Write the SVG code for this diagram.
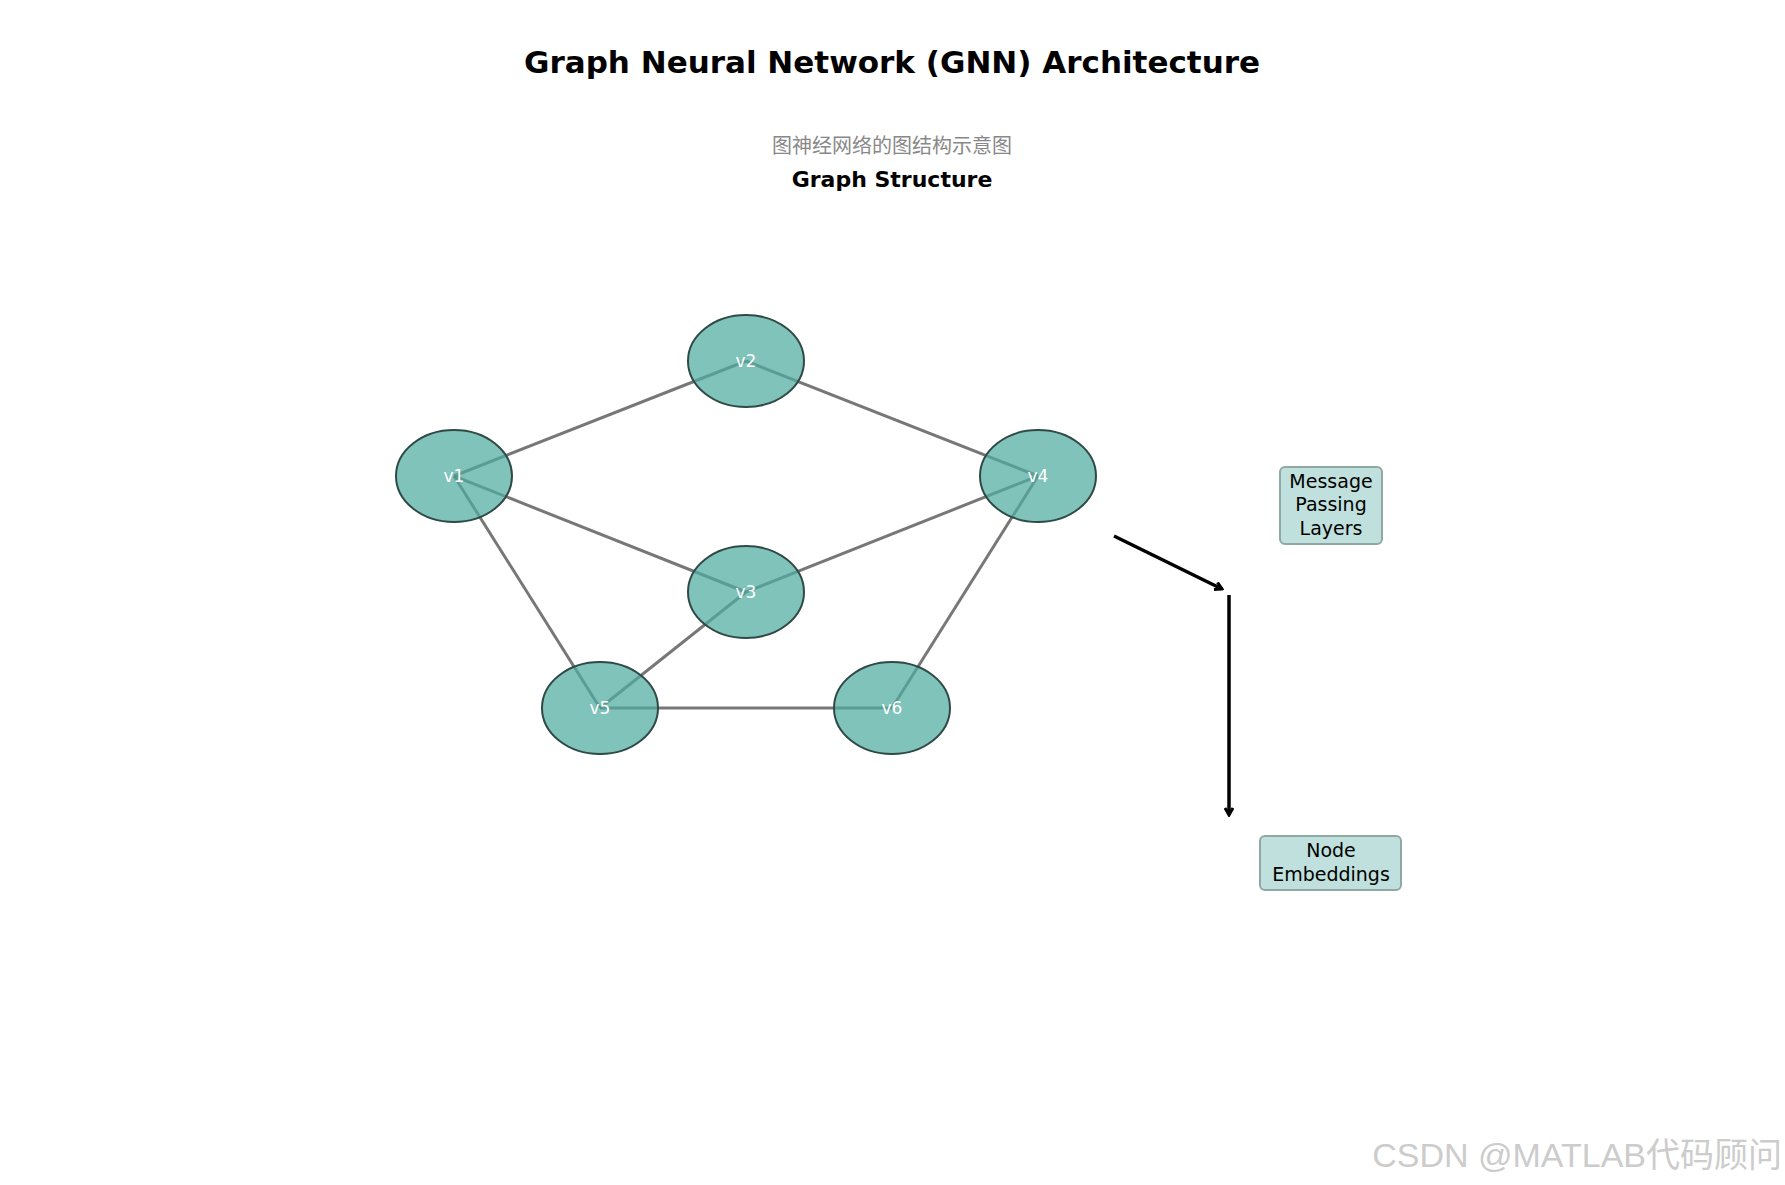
<svg xmlns="http://www.w3.org/2000/svg" width="1785" height="1185" viewBox="0 0 1785 1185">
<style>
.n{fill:#4fac9f;fill-opacity:0.72;stroke:#2f4a46;stroke-width:2}
.nl{font-family:"DejaVu Sans",sans-serif;font-size:17px;fill:#fff;text-anchor:middle}
.e{stroke:#555;stroke-opacity:0.8;stroke-width:3;fill:none}
.b{fill:#bfe0dc;stroke:#8fa8a4;stroke-width:2}
.bt{font-family:"DejaVu Sans",sans-serif;font-size:19px;fill:#000;text-anchor:middle}
.a{stroke:#000;stroke-width:3.5;fill:none}
</style>
<defs><marker id="ah" markerWidth="10" markerHeight="10" refX="8" refY="5" orient="auto" markerUnits="userSpaceOnUse"><path d="M1,1 L8,5 L1,9" fill="none" stroke="#000" stroke-width="3"/></marker></defs>
<rect width="1785" height="1185" fill="#fff"/>
<text x="892" y="73" font-family="DejaVu Sans,sans-serif" font-size="31" font-weight="bold" text-anchor="middle">Graph Neural Network (GNN) Architecture</text>
<text x="892" y="153" font-family="Noto Sans CJK SC,sans-serif" font-size="20" fill="#888" text-anchor="middle">图神经网络的图结构示意图</text>
<text x="892" y="187" font-family="DejaVu Sans,sans-serif" font-size="22" font-weight="bold" text-anchor="middle">Graph Structure</text>
<g id="edges">
<line class="e" x1="454" y1="476" x2="746" y2="361"/>
<line class="e" x1="746" y1="361" x2="1038" y2="476"/>
<line class="e" x1="454" y1="476" x2="746" y2="592"/>
<line class="e" x1="1038" y1="476" x2="746" y2="592"/>
<line class="e" x1="454" y1="476" x2="600" y2="708"/>
<line class="e" x1="1038" y1="476" x2="892" y2="708"/>
<line class="e" x1="746" y1="592" x2="600" y2="708"/>
<line class="e" x1="600" y1="708" x2="892" y2="708"/>
<line class="a" x1="1114" y1="536" x2="1222" y2="589" marker-end="url(#ah)"/>
<line class="a" x1="1229" y1="595" x2="1229" y2="815" marker-end="url(#ah)"/>
</g>
<g id="v1"><ellipse class="n" cx="454" cy="476" rx="58" ry="46"/><text class="nl" x="454" y="482">v1</text></g>
<g id="v2"><ellipse class="n" cx="746" cy="361" rx="58" ry="46"/><text class="nl" x="746" y="367">v2</text></g>
<g id="v3"><ellipse class="n" cx="746" cy="592" rx="58" ry="46"/><text class="nl" x="746" y="598">v3</text></g>
<g id="v4"><ellipse class="n" cx="1038" cy="476" rx="58" ry="46"/><text class="nl" x="1038" y="482">v4</text></g>
<g id="v5"><ellipse class="n" cx="600" cy="708" rx="58" ry="46"/><text class="nl" x="600" y="714">v5</text></g>
<g id="v6"><ellipse class="n" cx="892" cy="708" rx="58" ry="46"/><text class="nl" x="892" y="714">v6</text></g>
<g id="mp"><rect class="b" x="1280" y="467" width="102" height="77" rx="5"/><text class="bt" x="1331" y="488">Message</text><text class="bt" x="1331" y="511">Passing</text><text class="bt" x="1331" y="535">Layers</text></g>
<g id="ne"><rect class="b" x="1260" y="836" width="141" height="54" rx="5"/><text class="bt" x="1331" y="857">Node</text><text class="bt" x="1331" y="881">Embeddings</text></g>
<text x="1782" y="1167" font-family="Liberation Sans,Noto Sans CJK SC,sans-serif" font-size="34" fill="#ccc" text-anchor="end">CSDN @MATLAB代码顾问</text>
</svg>
